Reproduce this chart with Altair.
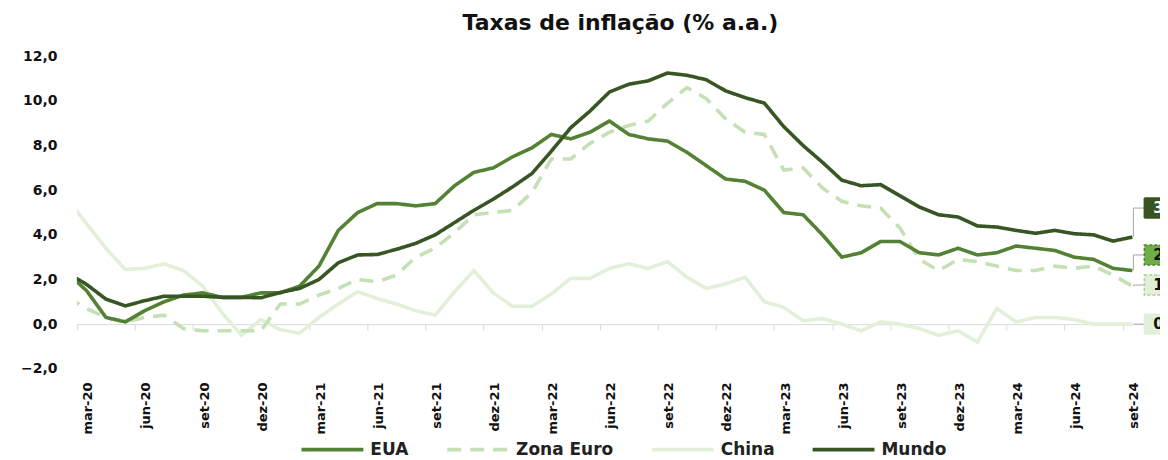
import json
import altair as alt
import pandas as pd

# ---------------- data ----------------
PT = ["jan", "fev", "mar", "abr", "mai", "jun", "jul", "ago", "set", "out", "nov", "dez"]
# monthly categories fev-20 ... set-24
MONTHS = [f"{PT[(m - 1) % 12]}-{str(2020 + (m - 1) // 12)[2:]}" for m in range(2, 58)]

SERIES = ["EUA", "Zona Euro", "China", "Mundo"]

EUA = [2.3, 1.5, 0.3, 0.1, 0.6, 1.0, 1.3, 1.4, 1.2, 1.2, 1.4,
       1.4, 1.7, 2.6, 4.2, 5.0, 5.4, 5.4, 5.3, 5.4, 6.2, 6.8, 7.0,
       7.5, 7.9, 8.5, 8.3, 8.6, 9.1, 8.5, 8.3, 8.2, 7.7, 7.1, 6.5,
       6.4, 6.0, 5.0, 4.9, 4.0, 3.0, 3.2, 3.7, 3.7, 3.2, 3.1, 3.4,
       3.1, 3.2, 3.5, 3.4, 3.3, 3.0, 2.9, 2.5, 2.4]

ZONA_EURO = [1.2, 0.7, 0.3, 0.1, 0.3, 0.4, -0.2, -0.3, -0.3, -0.3, -0.3,
             0.9, 0.9, 1.3, 1.6, 2.0, 1.9, 2.2, 3.0, 3.4, 4.1, 4.9, 5.0,
             5.1, 5.9, 7.4, 7.4, 8.1, 8.6, 8.9, 9.1, 9.9, 10.6, 10.1, 9.2,
             8.6, 8.5, 6.9, 7.0, 6.1, 5.5, 5.3, 5.2, 4.3, 2.9, 2.4, 2.9,
             2.8, 2.6, 2.4, 2.4, 2.6, 2.5, 2.6, 2.2, 1.7]

CHINA = [5.6, 4.5, 3.4, 2.45, 2.5, 2.7, 2.4, 1.7, 0.5, -0.5, 0.2,
         -0.25, -0.4, 0.3, 0.9, 1.45, 1.15, 0.9, 0.6, 0.4, 1.45, 2.4, 1.4,
         0.8, 0.8, 1.35, 2.05, 2.05, 2.5, 2.7, 2.5, 2.8, 2.1, 1.6, 1.8,
         2.1, 1.0, 0.75, 0.15, 0.25, 0.0, -0.3, 0.1, 0.0, -0.2, -0.5, -0.3,
         -0.8, 0.7, 0.1, 0.3, 0.3, 0.2, 0.0, 0.0, 0.0]

MUNDO = [2.3, 1.78, 1.12, 0.82, 1.05, 1.25, 1.25, 1.25, 1.2, 1.2, 1.18,
         1.42, 1.6, 2.0, 2.75, 3.1, 3.12, 3.35, 3.62, 4.0, 4.55, 5.1, 5.6,
         6.15, 6.75, 7.75, 8.8, 9.55, 10.4, 10.75, 10.9, 11.25, 11.15, 10.95, 10.45,
         10.15, 9.9, 8.85, 8.0, 7.25, 6.45, 6.2, 6.25, 5.75, 5.25, 4.9, 4.8,
         4.4, 4.35, 4.2, 4.07, 4.2, 4.05, 4.0, 3.72, 3.9]

TICK_LABELS = ["mar-20", "jun-20", "set-20", "dez-20", "mar-21", "jun-21", "set-21",
               "dez-21", "mar-22", "jun-22", "set-22", "dez-22", "mar-23", "jun-23",
               "set-23", "dez-23", "mar-24", "jun-24", "set-24"]

Y_TICKS = [-2, 0, 2, 4, 6, 8, 10, 12]

# end-of-series data labels (text and vertical placement of the label box)
END_LABELS = ["2,4", "1,7", "0,0", "3,9"]
END_LABEL_POS = [3.1, 1.75, 0.0, 5.2]

# ---------------- styles ----------------
COLORS = ["#548235", "#C5E0B4", "#E2F0D9", "#375623"]
DASHES = [[1, 0], [14, 9], [1, 0], [1, 0]]
BOX_FILL = ["#70AD47", "#E2F0D9", "#E2F0D9", "#375623"]
BOX_STROKE = ["#548235", "#A9D18E", "#E2F0D9", "#375623"]
BOX_TEXT = ["#111111", "#111111", "#111111", "#FFFFFF"]

FONT = "DejaVu Sans"
N_CAT = 55                      # mar-20 ... set-24 slots
W, H = 1085, 313                # plot area (runs slightly past the last slot)
X_MAX = -0.5 + N_CAT * W / 1067

# ---------------- tables ----------------
values = {"EUA": EUA, "Zona Euro": ZONA_EURO, "China": CHINA, "Mundo": MUNDO}
DRAW_ORDER = ["China", "Zona Euro", "EUA", "Mundo"]
rows = []
for s in DRAW_ORDER:
    for i, (m, v) in enumerate(zip(MONTHS, values[s])):
        rows.append({"serie": s, "mes": m, "idx": i - 1, "valor": v})
df = pd.DataFrame(rows)

last_idx = len(MONTHS) - 2
ends = pd.DataFrame({
    "serie": SERIES,
    "idx": [last_idx] * 4,
    "valor": [values[s][-1] for s in SERIES],
    "pos": END_LABEL_POS,
    "texto": END_LABELS,
})

tick_pos = [-0.5 + 3 * k for k in range(len(TICK_LABELS))]
label_expr = json.dumps(TICK_LABELS).replace('"', "'") + "[round((datum.value + 0.5) / 3)]"

x_scale = alt.Scale(domain=[-0.5, X_MAX], nice=False, zero=False)
y_scale = alt.Scale(domain=[-2, 12], nice=False, zero=False)

x_axis = alt.Axis(
    values=tick_pos, labelExpr=label_expr, title=None, grid=False,
    domainColor="#D9D9D9", domainWidth=1,
    offset=-(H * 2 / 14), tickColor="#D9D9D9", tickSize=6, tickWidth=1,
    labelAngle=270, labelOffset=11, labelPadding=52,
    labelFont=FONT, labelFontSize=13, labelFontWeight="bold", labelColor="#111111",
    labelOverlap=False,
)
y_axis = alt.Axis(
    values=Y_TICKS, labelExpr="replace(format(datum.value, '.1f'), '.', ',')",
    title=None, grid=False, domain=False, ticks=False, labelPadding=20,
    labelFont=FONT, labelFontSize=14, labelFontWeight="bold", labelColor="#111111",
)

color_scale = alt.Scale(domain=SERIES, range=COLORS)
dash_scale = alt.Scale(domain=SERIES, range=DASHES)
legend = alt.Legend(
    orient="none", legendX=223, legendY=361, direction="horizontal",
    symbolType="stroke", symbolSize=3844, symbolStrokeWidth=4,
    labelFont=FONT, labelFontSize=17, labelFontWeight="bold", labelColor="#222222",
    labelOffset=5, columnPadding=30, padding=0, title=None,
)

lines = alt.Chart(df).mark_line(clip=True, strokeWidth=3.6).encode(
    x=alt.X("idx:Q", scale=x_scale, axis=x_axis),
    y=alt.Y("valor:Q", scale=y_scale, axis=y_axis),
    color=alt.Color("serie:N", scale=color_scale, legend=legend),
    strokeDash=alt.StrokeDash("serie:N", scale=dash_scale, legend=legend),
)

layers = [lines]
X = alt.X("idx:Q", title=None)

# leader lines
layers.append(
    alt.Chart(ends).mark_rule(color="#A6A6A6", strokeWidth=1, xOffset=1, x2Offset=1)
    .encode(x=X, y=alt.Y("valor:Q", title=None), y2="pos:Q")
)
layers.append(
    alt.Chart(ends).mark_rule(color="#A6A6A6", strokeWidth=1, xOffset=1, x2Offset=12)
    .encode(x=X, x2="idx:Q", y=alt.Y("pos:Q", title=None))
)

for k, s in enumerate(SERIES):
    sub = ends[ends.serie == s]
    layers.append(
        alt.Chart(sub).mark_rect(
            clip=True, fill=BOX_FILL[k], stroke=BOX_STROKE[k], strokeWidth=1.5,
            strokeDash=[3, 2] if k in (0, 1) else [1, 0],
            xOffset=12, x2Offset=60, yOffset=-10, y2Offset=10,
        ).encode(x=X, x2="idx:Q", y=alt.Y("pos:Q", title=None), y2="pos:Q")
    )
    layers.append(
        alt.Chart(sub).mark_text(
            clip=True, align="left", baseline="middle", dx=21, font=FONT, fontSize=15,
            fontWeight="bold", color=BOX_TEXT[k],
        ).encode(x=X, y=alt.Y("pos:Q", title=None), text="texto:N")
    )

chart = alt.layer(*layers).properties(
    width=W, height=H,
    background="white",
    padding={"left": 12, "top": 4, "right": 0, "bottom": 0},
    title=alt.TitleParams(
        "Taxas de inflação (% a.a.)", font=FONT, fontSize=22, fontWeight="bold",
        color="#111111", anchor="middle", frame="group", dx=2, offset=14,
    ),
).configure_view(stroke=None)

chart.save("out.html", embed_options={"renderer": "svg", "actions": False})
